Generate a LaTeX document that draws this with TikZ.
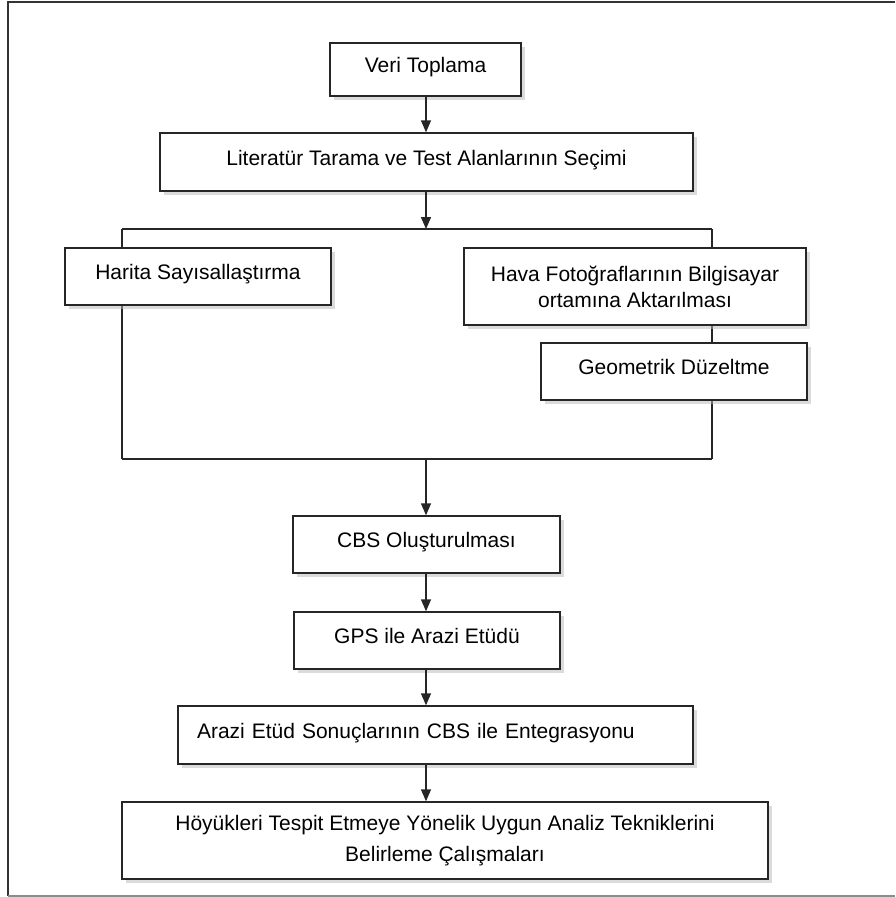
\documentclass[tikz,border=0pt]{standalone}
\usepackage{fontspec}
\setmainfont{Liberation Sans}
\usetikzlibrary{arrows.meta, positioning, shadows}
\tikzset{
  stepbox/.style={draw=black!85, line width=1.4pt, fill=white, align=center, inner sep=0pt,
    drop shadow={shadow xshift=4pt, shadow yshift=-4pt, fill=black!28},
    font=\fontsize{21}{26}\selectfont},
  onebox/.style={stepbox, text height=15pt, text depth=9pt},
  flow/.style={draw=black!85, line width=1.4pt},
  arr/.style={flow, -{Triangle[width=10pt,length=12pt]}}
}

\begin{document}
\begin{tikzpicture}[x=1pt, y=-1pt]
        \useasboundingbox (0,0) rectangle (895,897);
        \draw[line width=2pt, black!80] (895,1.5) -- (7.5,1.5) -- (7.5,896);
        \draw[line width=1.5pt, black!45] (7.5,896) -- (895,896);

        \coordinate (splitL) at (122,229);
        \coordinate (split) at (426,229);
        \coordinate (splitR) at (712,229);
        \coordinate (joinL) at (122,459);
        \coordinate (join) at (426,459);
        \coordinate (joinR) at (712,459);
        \draw[flow] (splitL) -- (splitR);
        \draw[flow] (joinL) -- (joinR);
        \draw[flow] (splitL) -- (joinL);
        \draw[flow] (splitR) -- (joinR);

        \node[onebox, minimum width=191pt, minimum height=53pt] (veri) at (425.5,69.5) {Veri Toplama};
        \node[onebox, minimum width=533pt, minimum height=58pt] (lit) at (426.5,162) {Literatür Tarama ve Test Alanlarının Seçimi};
        \node[onebox, minimum width=266pt, minimum height=57pt] (harita) at (198,276.5) {Harita Sayısallaştırma};
        \node[stepbox, minimum width=342pt, minimum height=77pt] (hava) at (635,286.5) {Hava Fotoğraflarının Bilgisayar\\ortamına Aktarılması};
        \node[onebox, minimum width=266pt, minimum height=57pt] (geo) at (674,371.5) {Geometrik Düzeltme};
        \node[onebox, minimum width=267pt, minimum height=57pt] (cbs) at (426.5,544.5) {CBS Oluşturulması};
        \node[onebox, minimum width=266pt, minimum height=57pt] (gps) at (427,640.5) {GPS ile Arazi Etüdü};
        \node[onebox, minimum width=515pt, minimum height=58pt, text width=477pt, inner xsep=19pt, align=left] (arazi) at (435.5,735) {Arazi Etüd Sonuçlarının CBS ile Entegrasyonu};
        \node[stepbox, minimum width=646pt, minimum height=77pt, font=\fontsize{21}{31}\selectfont] (hoyuk) at (445,840.5) {Höyükleri Tespit Etmeye Yönelik Uygun Analiz Tekniklerini\\Belirleme Çalışmaları};

        \draw[arr] (veri.south -| split) -- (lit.north -| split);
        \draw[arr] (lit.south -| split) -- (split);
        \draw[arr] (join) -- (cbs.north -| join);
        \draw[arr] (cbs.south -| join) -- (gps.north -| join);
        \draw[arr] (gps.south -| join) -- (arazi.north -| join);
        \draw[arr] (arazi.south -| join) -- (hoyuk.north -| join);
    \end{tikzpicture}
\end{document}
